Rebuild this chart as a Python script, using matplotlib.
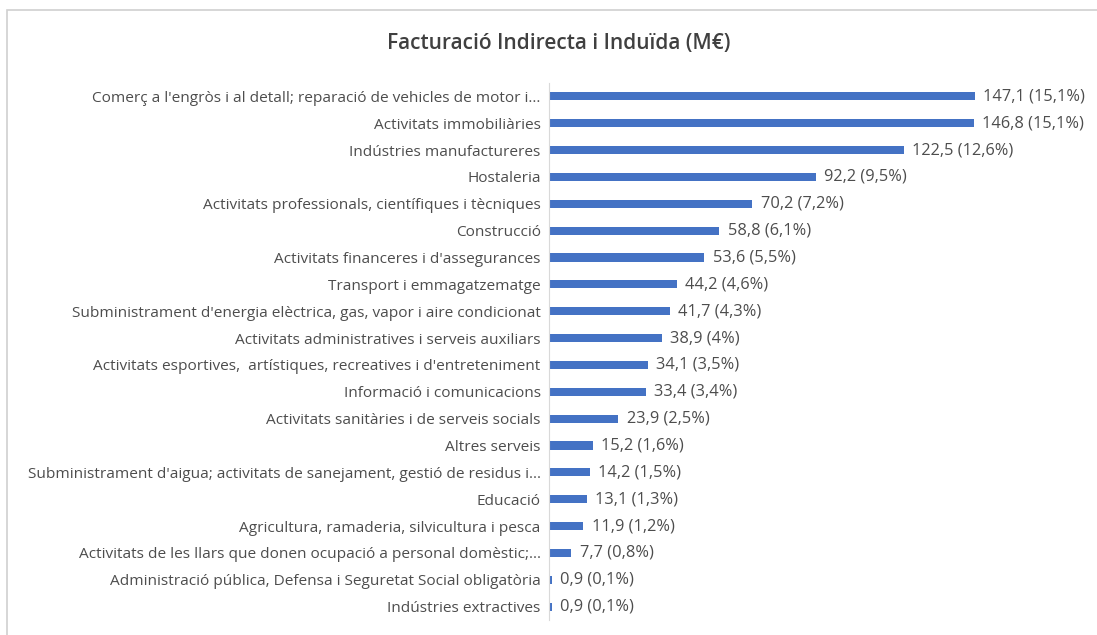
import matplotlib
matplotlib.use("Agg")
import matplotlib.pyplot as plt
from matplotlib.patches import Rectangle

categories = [
    "Comerç a l'engròs i al detall; reparació de vehicles de motor i...",
    "Activitats immobiliàries",
    "Indústries manufactureres",
    "Hostaleria",
    "Activitats professionals, científiques i tècniques",
    "Construcció",
    "Activitats financeres i d'assegurances",
    "Transport i emmagatzematge",
    "Subministrament d'energia elèctrica, gas, vapor i aire condicionat",
    "Activitats administratives i serveis auxiliars",
    "Activitats esportives,  artístiques, recreatives i d'entreteniment",
    "Informació i comunicacions",
    "Activitats sanitàries i de serveis socials",
    "Altres serveis",
    "Subministrament d'aigua; activitats de sanejament, gestió de residus i...",
    "Educació",
    "Agricultura, ramaderia, silvicultura i pesca",
    "Activitats de les llars que donen ocupació a personal domèstic;...",
    "Administració pública, Defensa i Seguretat Social obligatòria",
    "Indústries extractives",
]
values = [147.1, 146.8, 122.5, 92.2, 70.2, 58.8, 53.6, 44.2, 41.7, 38.9,
          34.1, 33.4, 23.9, 15.2, 14.2, 13.1, 11.9, 7.7, 0.9, 0.9]
shares = ["15,1%", "15,1%", "12,6%", "9,5%", "7,2%", "6,1%", "5,5%", "4,6%", "4,3%", "4%",
          "3,5%", "3,4%", "2,5%", "1,6%", "1,5%", "1,3%", "1,2%", "0,8%", "0,1%", "0,1%"]

W, H = 1097, 635
fig = plt.figure(figsize=(W / 100, H / 100), dpi=100)
plt.rcParams['font.family'] = ['Open Sans', 'DejaVu Sans']
txt_color = "#4d4d4d"

# light frame around the chart area
fig.patches.append(Rectangle((7 / W, -0.05), 1.2, 1 - 10 / H + 0.05, transform=fig.transFigure,
                             fill=False, edgecolor="#d0d0d0", linewidth=1.2))

ax = fig.add_axes([549 / W, 1 - 620 / H, (1060 - 549) / W, 537 / H])
y = list(range(len(categories)))
ax.barh(y, values, height=0.3, color="#4472C4")
ax.set_ylim(len(categories) - 0.5, -0.5)
ax.set_xlim(0, 511 / (975 - 549) * 147.1)

ax.set_yticks(y)
ax.set_yticklabels(categories, fontsize=11.1, color=txt_color)
ax.tick_params(axis="y", length=0, pad=6)
ax.set_xticks([])
for s in ["top", "right", "bottom"]:
    ax.spines[s].set_visible(False)
ax.spines["left"].set_color("#d9d9d9")

for yi, v, p in zip(y, values, shares):
    label = f"{v:.1f}".replace(".", ",") + f" ({p})"
    ax.annotate(label, (v, yi), xytext=(6, 0), textcoords="offset points",
                va="center", ha="left", fontsize=11.8, color=txt_color)

fig.text(559 / W, 1 - 44 / H, "Facturació Indirecta i Induïda (M€)", ha="center", va="center",
         fontsize=15, fontweight="semibold", color="#404040")

fig.savefig("out.png", dpi=100, facecolor="white")
